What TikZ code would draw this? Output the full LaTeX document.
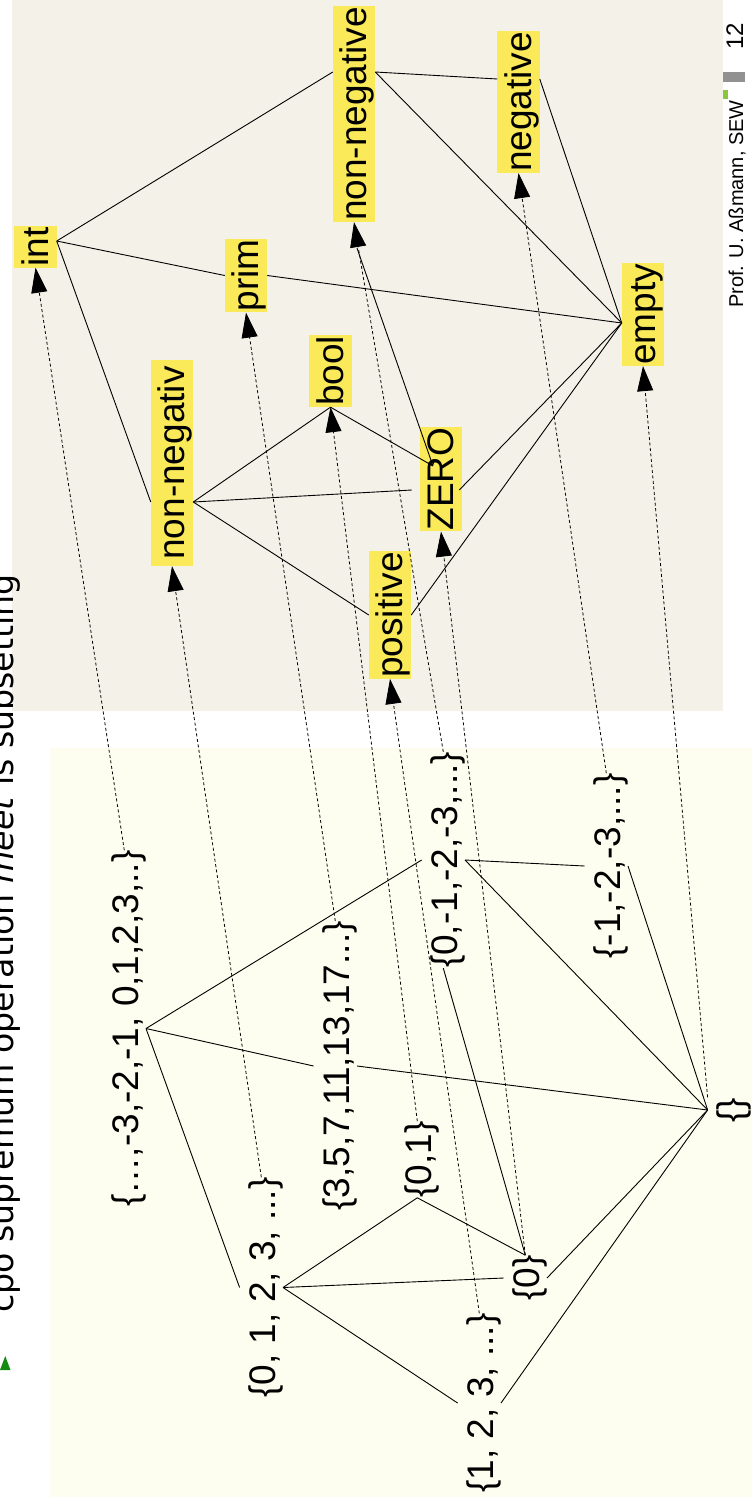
\documentclass[tikz,border=0pt]{standalone}
\usepackage{fontspec}
\setmainfont{Liberation Sans}
\newfontfamily\headfont{DejaVu Sans}
\usetikzlibrary{arrows.meta}
\definecolor{panelbeige}{RGB}{244,242,232}
\definecolor{panelcream}{RGB}{254,254,240}
\definecolor{hilite}{RGB}{250,234,90}
\definecolor{bulletgreen}{RGB}{20,140,20}
\definecolor{logogreen}{RGB}{140,198,63}
\definecolor{bargray}{RGB}{145,145,145}

\begin{document}
\begin{tikzpicture}[x=1pt,y=-1pt,
  lbl/.style={rotate=90, fill=hilite, font=\fontsize{37}{44}\selectfont,
    text height=33.3pt, text depth=7.8pt, inner xsep=1pt, inner ysep=0.5pt},
  setlbl/.style={rotate=90, anchor=base, font=\fontsize{37}{44}\selectfont,
    text height=35.2pt, text depth=7.8pt, inner sep=0pt},
  lattice/.style={line width=0.9pt},
  mapsto/.style={dash pattern=on 3pt off 2.5pt, line width=0.8pt,
    -{Triangle[length=25pt,width=16pt]}},
]
\useasboundingbox (0,0) rectangle (752,1504);
\clip (0,0) rectangle (752,1504);

% panels
\fill[white] (0,0) rectangle (752,1504);
\fill[panelbeige] (12,0) rectangle (723,711);
\fill[panelcream] (50,748) rectangle (752,1497);

% slide heading and footer
\fill[bulletgreen] (0,1370) -- (10.5,1370) -- (5.25,1356) -- cycle;
\node[rotate=90, anchor=base west, inner sep=0pt,
  font=\headfont\fontsize{33.2}{40}\selectfont] (head) at (13.5,1313)
  {cpo supremum operation \textit{meet} is subsetting};
\node[rotate=90, anchor=base, inner sep=0pt, font=\fontsize{20}{24}\selectfont]
  (author) at (743,204) {Prof. U. Aßmann, SEW};
\node[rotate=90, anchor=base, inner sep=0pt, font=\fontsize{24}{28}\selectfont]
  (page) at (743,36.5) {12};
\fill[bargray] (723,72) rectangle (745,82);
\fill[logogreen] (723,90) rectangle (728,99);

% abstract domain
\node[lbl] (int)   at (35.5,247)  {int};
\node[lbl] (prim)  at (246,275.5) {prim};
\node[lbl] (nnt)   at (354,114)   {non-negative};
\node[lbl] (neg)   at (518.5,102) {negative};
\node[lbl] (empty) at (643,314.5) {empty};
\node[lbl, minimum width=206pt] (nnm) at (172,463) {non-negativ};
\node[lbl] (bool)  at (330.5,371) {bool};
\node[lbl] (zero)  at (441,479)   {ZERO};
\node[lbl] (pos)   at (390,615)   {positive};

% concrete sets
\node[setlbl] (T)    at (138,1028.5) {\{…,-3,-2,-1, 0,1,2,3,..\}};
\node[setlbl] (P)    at (349,1066)   {\{3,5,7,11,13,17...\}};
\node[setlbl] (Sn0)  at (457,860)    {\{0,-1,-2,-3,...\}};
\node[setlbl] (Sneg) at (620,866)    {\{-1,-2,-3,...\}};
\node[setlbl] (Snn)  at (275,1287.5) {\{0, 1, 2, 3, ...\}};
\node[setlbl] (S01)  at (431,1159.5) {\{0,1\}};
\node[setlbl] (S0)   at (539,1278)   {\{0\}};
\node[setlbl] (S1)   at (493,1403)   {\{1, 2, 3, ...\}};
\node[setlbl] (Se)   at (743,1110)   {\{\}};

% attachment points on the abstract labels
\coordinate (intR)   at ([shift={(0,-6)}]int.south);
\coordinate (nntL)   at ([shift={(0,-42)}]nnt.north);
\coordinate (nntR)   at ([shift={(0,-42)}]nnt.south);
\coordinate (negL)   at ([shift={(0,-23)}]neg.north);
\coordinate (negR)   at ([shift={(0,-23)}]neg.south);
\coordinate (emptyL) at ([shift={(0,8.5)}]empty.north);
\coordinate (nnmL)   at ([shift={(0,39)}]nnm.north);
\coordinate (nnmR)   at ([shift={(0,39)}]nnm.south);
\coordinate (zeroIn) at ([shift={(-8,-13)}]zero.center);
\coordinate (zeroL)  at ([shift={(-8,11)}]zero.north);
\coordinate (zeroR)  at ([shift={(-3,11)}]zero.south);
\coordinate (nntFoot) at ([shift={(3,26)}]nnt.west);

% abstract lattice
\draw[lattice] (intR) -- (nntL);
\draw[lattice] (intR) -- (prim.north);
\draw[lattice] (prim.south) -- (emptyL);
\draw[lattice] (intR) -- (nnmL);
\draw[lattice] (nntR) -- (negL);
\draw[lattice] (nntR) -- (emptyL);
\draw[lattice] (negR) -- (emptyL);
\draw[lattice] (nnmR) -- (bool.west);
\draw[lattice] (bool.west) -- (zeroIn);
\draw[lattice, -{Straight Barb[length=4pt,width=6pt]}] (nntFoot) -- (zeroIn);
\draw[lattice] (nnmR) -- (zeroL);
\draw[lattice] (zeroR) -- (emptyL);
\draw[lattice] (nnmR) -- (pos.north);
\draw[lattice] (pos.south) -- (emptyL);

% concrete lattice
\draw[lattice] (T.south) -- (Snn.north);
\draw[lattice] (T.south) -- (Sn0.north);
\draw[lattice] (T.south) -- (P.north);
\draw[lattice] (P.south) -- (Se.north);
\draw[lattice] (Sn0.south) -- (Sneg.north);
\draw[lattice] (Sn0.south) -- (Se.north);
\draw[lattice] (Sneg.south) -- (Se.north);
\draw[lattice] (Sn0.west) -- (S0.east);
\draw[lattice] (Snn.south) -- (S01.west);
\draw[lattice] (Snn.south) -- (S0.north);
\draw[lattice] (Snn.south) -- (S1.north);
\draw[lattice] (S01.west) -- (S0.east);
\draw[lattice] (S0.south) -- (Se.north);
\draw[lattice] (S1.south) -- (Se.north);

% abstraction map
\draw[mapsto] (T.east) -- (int.west);
\draw[mapsto] (Snn.east) -- (nnm.west);
\draw[mapsto] (P.east) -- (prim.west);
\draw[mapsto] (S01.east) -- (bool.west);
\draw[mapsto] (S1.east) -- (pos.west);
\draw[mapsto] (Sn0.east) -- (nnt.west);
\draw[mapsto] (S0.east) -- (zero.west);
\draw[mapsto] (Sneg.east) -- (neg.west);
\draw[mapsto] (Se.north east) -- (empty.west);
\end{tikzpicture}
\end{document}
